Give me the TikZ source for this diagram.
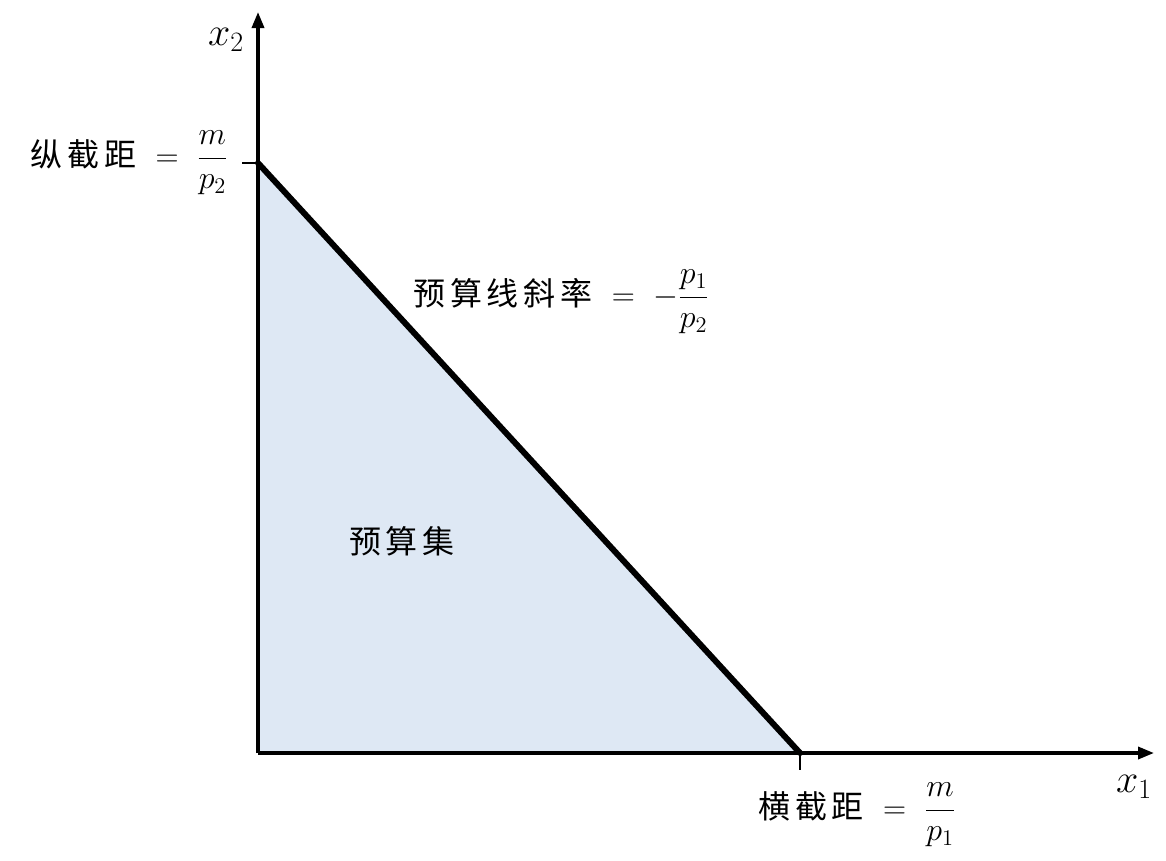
\RequirePackage{fix-cm}
\documentclass[tikz,border=0pt]{standalone}
\usepackage{amsmath}
\usepackage{fontspec}
\newfontfamily\cjk{Noto Sans CJK SC}[LetterSpace=15]
\usetikzlibrary{arrows.meta}
\definecolor{setfill}{HTML}{DEE8F4}
\tikzset{
  axis/.style={line width=2.6pt,-{Triangle[length=12pt,width=9pt]}},
  budget/.style={line width=4.5pt,line cap=round},
  tickln/.style={line width=1.5pt},
  lbl/.style={inner sep=0pt,font=\fontsize{24}{28}\selectfont},
  axlbl/.style={inner sep=0pt,font=\fontsize{30}{34}\selectfont},
}
\begin{document}
\begin{tikzpicture}[x=0.75pt,y=-0.75pt]
\useasboundingbox[fill=white] (0,0) rectangle (1166,860);
\coordinate (O) at (258,753);
\coordinate (Y) at (258,12);
\coordinate (X) at (1154,753);
\coordinate (A) at (258,163);
\coordinate (B) at (800,753);
\coordinate (At) at (242,163);
\coordinate (Bt) at (800,770);
\fill[setfill] (O) -- (A) -- (B) -- cycle;
\draw[tickln] (At) -- (A);
\draw[tickln] (B) -- (Bt);
\draw[axis] (O) -- (Y);
\draw[axis] (O) -- (X);
\draw[budget] (A) -- (B);
\node[axlbl] (x2) at (226,40) {$x_2$};
\node[axlbl] (x1) at (1134,787) {$x_1$};
\node[lbl,anchor=east] (yl) at (228,163) {{\cjk 纵截距}\ \ $=\ \dfrac{m}{p_2}$};
\node[lbl,anchor=west] (sl) at (413,302) {{\cjk 预算线斜率}\ \ $=\ {-}\dfrac{p_1}{p_2}$};
\node[lbl,anchor=west] (xl) at (758,815) {{\cjk 横截距}\ \ $=\ \dfrac{m}{p_1}$};
\node[lbl] (bs) at (402,541) {\cjk 预算集};
\end{tikzpicture}
\end{document}
